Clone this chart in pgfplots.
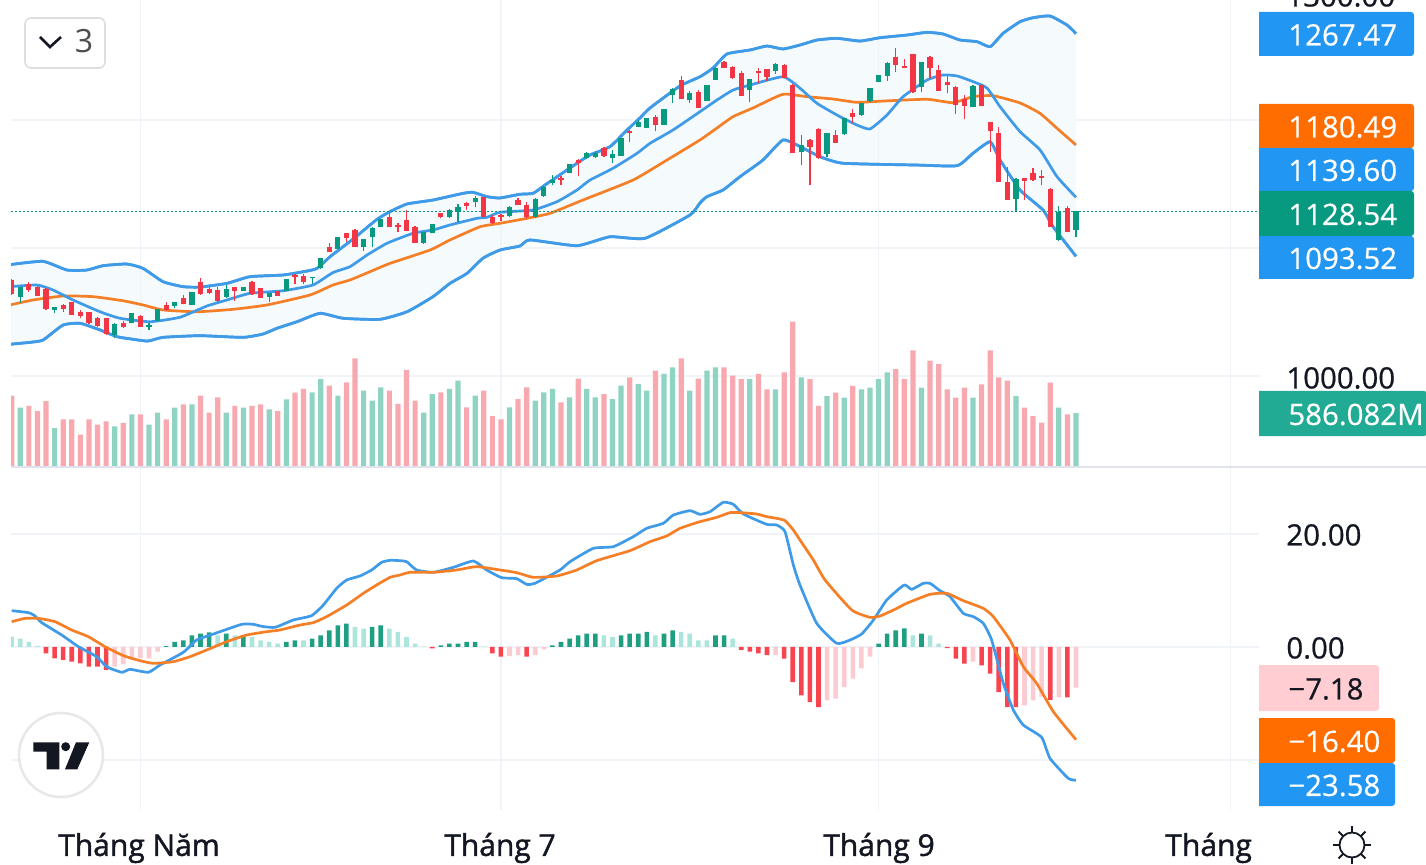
\documentclass[border=0pt]{standalone}
\usepackage{pgfplots}
\pgfplotsset{compat=1.18}
\usepackage{pgfplotstable}
\usepgfplotslibrary{fillbetween}
\usepackage{fontspec}
\setmainfont{Open Sans}
\newfontfamily\tickfont[FakeBold=1.4]{Open Sans}
\newfontfamily\scalefont[FakeBold=0.7]{Open Sans}
\newfontfamily\labfont[FakeBold=0.5]{Open Sans}
\definecolor{cgrid}{HTML}{F0F3F7}
\definecolor{cup}{HTML}{089981}
\definecolor{cdn}{HTML}{F23645}
\definecolor{cblue}{HTML}{3F9BE8}
\definecolor{corange}{HTML}{F57F26}
\definecolor{cfill}{HTML}{F5FAFD}
\definecolor{vup}{HTML}{8FD3C3}
\definecolor{vdn}{HTML}{F8A9B0}
\definecolor{hdg}{HTML}{1E9F82}
\definecolor{hlg}{HTML}{ACE5DC}
\definecolor{hdr}{HTML}{F8444F}
\definecolor{hlr}{HTML}{FBCBD2}
\definecolor{ctext}{HTML}{131722}
\definecolor{lblue}{HTML}{2196F3}
\definecolor{lorange}{HTML}{FF6D00}
\definecolor{lteal}{HTML}{22AB94}
\definecolor{lpink}{HTML}{FFCDD2}
\definecolor{csep}{HTML}{E0E3EB}
% candles: index, body top, body bottom, high, low
\pgfplotstableread{
i t b h l
1 1069.3 1062.0 1069.3 1057.3
5 1053.6 1051.6 1054.2 1049.0
12 1040.6 1032.0 1041.1 1029.4
14 1049.0 1041.1 1049.0 1041.1
16 1039.8 1038.5 1041.1 1036.0
17 1052.3 1043.0 1052.3 1043.0
19 1058.1 1054.7 1058.1 1052.9
21 1065.9 1055.5 1065.9 1055.5
25 1067.7 1062.0 1071.1 1060.7
27 1069.8 1066.7 1069.8 1066.7
30 1064.6 1061.5 1064.6 1058.1
32 1075.5 1066.4 1075.5 1066.4
35 1077.6 1076.3 1077.6 1071.9
36 1091.9 1084.1 1091.9 1083.3
38 1108.3 1099.0 1108.3 1099.0
41 1106.8 1100.5 1106.8 1097.9
42 1115.9 1108.3 1116.7 1100.5
43 1122.4 1116.2 1122.4 1116.2
48 1112.8 1103.7 1112.8 1103.1
49 1118.5 1111.5 1118.5 1111.5
51 1129.7 1124.0 1130.2 1123.4
52 1131.8 1129.2 1134.1 1120.6
54 1138.8 1135.7 1140.6 1131.8
58 1131.8 1125.0 1132.8 1124.5
61 1138.3 1124.0 1138.8 1123.2
62 1147.9 1140.9 1148.4 1140.1
63 1153.1 1150.5 1157.0 1149.2
65 1165.4 1158.3 1165.4 1158.3
67 1173.9 1170.1 1175.3 1169.3
68 1174.5 1170.8 1176.0 1170.1
70 1173.4 1170.1 1176.6 1166.7
71 1185.7 1171.9 1185.7 1171.9
73 1198.7 1194.3 1200.0 1194.3
74 1201.3 1194.0 1201.3 1194.0
76 1208.3 1196.1 1208.3 1196.1
77 1224.0 1219.5 1224.7 1213.5
79 1220.8 1215.6 1222.9 1213.5
81 1227.3 1214.8 1227.3 1214.8
82 1240.9 1231.3 1241.7 1231.3
86 1231.8 1223.4 1231.8 1214.3
89 1243.5 1238.3 1244.3 1235.9
92 1180.5 1175.3 1188.3 1164.8
95 1189.6 1173.4 1190.1 1170.8
97 1201.3 1188.8 1201.8 1188.3
99 1213.0 1203.9 1213.5 1203.4
100 1224.7 1214.8 1225.3 1214.3
101 1235.2 1230.0 1235.2 1230.0
102 1244.8 1234.4 1245.3 1230.7
106 1245.1 1225.5 1245.6 1221.6
112 1226.8 1210.4 1227.3 1209.9
117 1153.9 1138.3 1154.4 1127.9
122 1128.4 1106.3 1132.8 1105.7
124 1128.54 1114.1 1128.54 1108.3
}\candleup
\pgfplotstableread{
i t b h l
0 1075.0 1064.1 1075.5 1063.3
2 1071.9 1067.2 1073.2 1065.9
3 1069.8 1062.5 1070.3 1062.5
4 1067.7 1052.1 1068.5 1051.6
6 1055.2 1052.6 1056.2 1050.3
7 1058.1 1047.9 1058.1 1047.9
8 1050.3 1047.1 1051.6 1045.1
9 1050.3 1041.1 1050.3 1040.6
10 1045.1 1039.3 1046.4 1038.5
11 1045.1 1032.8 1045.1 1032.0
13 1041.7 1038.5 1043.2 1037.2
15 1046.9 1038.5 1047.7 1038.5
18 1055.2 1051.6 1058.1 1051.0
20 1060.7 1056.2 1063.3 1056.2
22 1073.7 1063.8 1076.3 1063.3
23 1068.2 1064.6 1069.3 1063.8
24 1067.2 1058.6 1069.3 1058.1
26 1069.8 1066.4 1069.8 1058.6
28 1073.2 1064.1 1074.2 1063.3
29 1068.5 1061.2 1068.5 1061.2
31 1066.7 1062.8 1066.7 1062.8
33 1078.9 1077.6 1079.4 1071.6
34 1078.1 1073.2 1079.4 1071.6
37 1101.0 1096.6 1103.6 1096.6
39 1112.0 1107.6 1112.0 1105.0
40 1114.1 1100.5 1114.6 1100.5
44 1124.5 1116.2 1128.4 1116.2
45 1118.0 1116.2 1119.3 1112.5
46 1121.9 1113.5 1129.7 1113.5
47 1116.7 1103.7 1117.2 1103.7
50 1127.1 1124.0 1127.6 1123.4
53 1135.4 1132.8 1136.2 1129.7
55 1139.6 1124.5 1139.6 1124.0
56 1124.5 1119.3 1125.8 1118.5
57 1125.8 1124.0 1126.6 1121.4
59 1137.5 1133.3 1138.8 1133.3
60 1133.6 1124.0 1136.2 1122.4
64 1154.4 1153.1 1156.3 1149.2
66 1168.8 1166.2 1169.5 1156.3
69 1177.9 1171.9 1178.6 1171.4
72 1191.4 1190.1 1192.2 1183.1
75 1202.6 1196.1 1203.9 1191.4
78 1231.3 1216.4 1234.4 1216.4
80 1222.1 1209.7 1223.4 1209.7
83 1245.6 1240.9 1246.1 1240.4
84 1241.7 1232.6 1242.2 1232.0
85 1236.5 1218.8 1238.5 1218.8
87 1238.3 1237.0 1240.4 1228.6
88 1239.6 1233.3 1240.1 1230.5
90 1243.0 1232.6 1243.8 1232.6
91 1227.3 1174.5 1227.9 1174.0
93 1184.4 1179.2 1184.9 1149.2
94 1192.7 1170.6 1193.5 1169.3
96 1188.3 1182.3 1192.2 1181.8
98 1205.2 1202.6 1208.3 1197.9
103 1249.0 1243.0 1256.0 1237.8
104 1242.5 1240.4 1247.4 1240.4
105 1251.3 1222.1 1251.8 1220.8
107 1249.5 1240.4 1250.0 1232.6
108 1239.1 1222.9 1243.0 1222.9
109 1230.0 1227.3 1234.4 1220.8
110 1226.0 1211.7 1226.6 1204.4
111 1216.4 1210.9 1219.5 1200.5
113 1227.3 1211.2 1227.9 1211.2
114 1198.2 1191.7 1198.7 1175.3
115 1190.1 1151.8 1194.8 1151.8
116 1151.8 1137.5 1163.6 1137.5
118 1154.4 1152.4 1154.9 1137.5
119 1158.3 1153.1 1162.8 1152.6
120 1156.5 1154.9 1160.9 1149.2
121 1146.1 1116.7 1146.6 1116.2
123 1131.0 1112.8 1132.8 1112.2
}\candledn
\pgfplotstableread{
x y
-0.2 1087.0
3.65 1089.6
6.44 1082.8
8.77 1082.8
10.64 1086.2
13.43 1087.5
15.3 1084.1
17.63 1073.7
19.96 1069.8
21.94 1069.5
25.08 1072.4
27.76 1077.6
31.61 1078.9
34.4 1082.0
35.57 1084.1
37.09 1093.2
39.77 1107.0
42.56 1122.4
44.07 1128.4
46.06 1134.4
49.09 1137.5
52.58 1142.7
53.75 1143.5
55.38 1140.1
56.89 1139.1
59.22 1142.0
60.74 1142.7
62.13 1149.2
65.86 1166.2
67.38 1172.7
69.71 1179.2
71.69 1192.2
73.2 1201.6
74.37 1209.4
77.86 1226.6
80.19 1233.8
81.71 1240.6
83.34 1251.6
86.02 1254.7
88.0 1257.8
89.86 1255.5
91.85 1258.6
93.83 1262.5
96.16 1263.8
98.84 1261.7
101.17 1264.3
104.31 1266.4
106.64 1268.5
108.51 1267.2
110.49 1262.5
112.47 1261.2
114.0 1257.3
115.5 1267.7
117.48 1276.8
118.99 1279.9
120.97 1281.25
122.95 1274.2
124 1267.47
}\bbupper
\pgfplotstableread{
x y
-0.2 1024.8
2.13 1026.3
3.65 1028.1
5.98 1039.8
7.96 1041.2
10.29 1036.0
12.27 1030.7
14.13 1028.7
15.88 1027.3
17.63 1030.2
21.94 1031.5
26.95 1030.2
29.28 1032.8
30.91 1037.3
33.24 1042.4
35.92 1049.0
38.6 1045.1
42.91 1044.3
46.06 1050.2
49.09 1062.0
51.07 1072.4
53.05 1080.2
54.91 1092.0
56.89 1098.4
59.22 1101.6
60.38 1106.3
65.86 1101.8
69.71 1108.8
73.79 1107.6
79.03 1125.8
80.19 1135.2
81.0 1140.1
82.87 1145.3
84.85 1155.7
87.53 1168.75
89.86 1184.4
91.85 1179.2
94.18 1171.3
96.86 1166.2
105.48 1164.8
110.14 1164.3
112.0 1174.0
114.0 1183.0
115.15 1168.75
117.48 1145.3
120.16 1129.7
121.33 1116.6
124 1093.52
}\bblower
\pgfplotstableread{
x y
-0.2 1055.5
2.48 1059.4
5.98 1062.5
9.47 1062.0
12.97 1058.8
15.3 1055.5
17.63 1051.6
21.59 1050.2
25.78 1052.1
29.74 1055.5
34.76 1063.3
37.43 1071.1
39.41 1075.0
41.75 1081.5
44.07 1088.0
48.74 1098.4
51.07 1106.3
54.57 1116.6
56.89 1119.3
60.04 1123.2
62.72 1127.1
66.56 1137.5
72.39 1153.1
76.35 1168.75
80.19 1184.4
82.17 1193.75
84.04 1202.6
86.37 1209.4
89.86 1220.1
92.66 1218.2
95.69 1216.4
98.48 1213.8
101.51 1214.8
106.64 1216.2
109.67 1213.5
112.0 1218.2
114.33 1219.0
117.48 1213.3
119.81 1205.2
121.79 1193.5
124 1180.49
}\bbbasis
\pgfplotstableread{
x y
-0.2 1069.8
2.95 1071.1
4.81 1067.2
7.14 1059.4
10.29 1050.2
12.62 1045.1
16.11 1042.4
19.61 1045.9
22.75 1054.7
25.08 1059.4
27.76 1064.6
31.61 1066.6
35.1 1071.1
37.43 1080.8
39.41 1085.4
41.4 1094.5
43.73 1103.7
46.76 1111.5
49.09 1114.1
51.07 1118.0
54.21 1123.2
55.38 1124.0
56.89 1127.9
60.74 1129.7
63.53 1136.2
65.86 1145.3
67.38 1153.1
70.06 1162.3
72.86 1174.0
74.37 1181.8
77.05 1192.2
80.19 1206.5
82.17 1215.6
84.04 1223.4
86.02 1227.3
89.86 1233.8
91.85 1224.8
93.83 1213.0
96.5 1202.6
98.48 1196.1
100.0 1193.0
101.98 1203.9
103.85 1218.2
106.64 1231.25
108.51 1235.2
110.14 1234.4
112.0 1230.0
113.63 1225.0
115.15 1210.4
117.48 1190.9
119.81 1176.6
121.79 1155.7
124 1139.6
}\shortma
\pgfplotstableread{
i v
1 645
5 420
12 439
14 571
16 457
17 590
19 645
21 682
25 590
27 645
30 627
32 737
35 815
36 962
38 778
41 833
42 723
43 870
48 590
49 796
51 852
52 944
54 778
58 649
61 723
62 815
63 852
65 760
67 852
68 760
70 741
71 889
73 907
74 833
76 1018
77 1091
79 833
81 1054
82 1091
86 962
89 848
92 981
95 774
97 756
99 848
100 866
101 962
102 1036
106 866
112 756
117 774
122 645
124 586.082
}\volup
\pgfplotstableread{
i v
0 778
2 664
3 608
4 719
6 516
7 516
8 347
9 516
10 457
11 494
13 476
15 571
18 516
20 682
22 778
23 590
24 760
26 664
28 664
29 682
31 608
33 811
34 852
37 889
39 925
40 1191
44 833
45 686
46 1062
47 723
50 815
53 649
55 833
56 553
57 516
59 741
60 870
64 704
66 966
69 796
72 981
75 1054
78 1191
80 966
83 1091
84 999
85 962
87 1018
88 848
90 1036
91 1596
93 962
94 664
96 811
98 885
103 1073
104 962
105 1279
107 1165
108 1128
109 848
110 756
111 866
113 903
114 1279
115 981
116 944
118 645
119 553
120 479
121 922
123 571
}\voldn
\pgfplotstableread{
i v
18 0.15
19 0.89
20 1.18
21 2.07
22 2.36
23 2.6
25 2.36
27 2.07
32 0.89
33 1.18
35 1.48
36 2.07
37 2.95
38 3.84
39 4.13
42 3.54
43 3.84
50 0.3
51 0.59
52 0.59
53 0.89
54 0.89
63 0.3
64 0.89
65 1.48
66 2.07
67 2.36
68 2.36
71 2.07
72 2.36
73 2.36
74 2.66
76 2.36
77 2.95
82 2.07
83 2.07
101 0.59
102 2.36
103 2.95
104 3.3
106 2.36
}\histdg
\pgfplotstableread{
i v
0 1.83
1 1.48
2 0.89
3 0.18
24 2.07
26 2.07
28 1.77
29 1.18
30 0.89
31 0.59
34 1.18
40 3.54
41 3.25
44 3.25
45 2.66
46 1.77
47 0.59
48 0.05
55 0.05
69 2.07
70 1.77
75 2.07
78 2.66
79 2.36
80 1.18
81 1.18
84 1.48
105 2.07
107 2.07
108 0.59
}\histlg
\pgfplotstableread{
i v
4 -1.12
5 -2.0
6 -2.3
7 -2.6
8 -2.89
9 -3.48
10 -3.48
11 -4.07
49 -0.24
56 -1.12
57 -1.71
60 -1.71
85 -0.53
86 -0.83
87 -1.12
88 -1.42
90 -2.07
91 -6.2
92 -8.56
93 -9.74
94 -10.62
109 -0.18
110 -2.07
111 -2.95
113 -3.25
114 -4.72
115 -7.97
116 -10.62
117 -10.62
121 -9.38
123 -8.9
}\histdr
\pgfplotstableread{
i v
12 -3.48
13 -3.07
14 -2.3
15 -2.0
16 -2.0
17 -0.83
58 -1.6
59 -1.42
61 -1.42
62 -0.41
89 -1.42
95 -9.44
96 -9.15
97 -7.08
98 -5.6
99 -3.78
100 -1.71
112 -2.6
118 -10.33
119 -9.44
120 -8.8
122 -8.9
124 -7.18
}\histlr
\pgfplotstableread{
x y
0 6.43
1.94 6.08
2.72 5.49
3.5 4.31
5.83 2.12
7.77 0.06
9.9 -1.71
11.07 -3.48
12.82 -4.48
13.79 -3.95
15.92 -4.48
17.28 -3.19
20 -0.94
21.55 1.24
23.5 2.3
26.8 4.01
28.16 4.01
29.13 3.66
30.68 3.48
32.82 4.78
34.95 5.55
36.31 7.43
37.86 10.38
39.03 11.86
40.58 12.57
41.94 13.63
43.1 14.99
44.08 15.34
45.24 15.28
46.02 15.1
47.18 13.63
49.13 13.22
51.46 14.1
53.79 15.22
55.34 13.63
57.09 12.27
58.83 12.1
60 11.09
60.97 11.27
63.88 13.63
65.05 15.1
67.77 17.46
70.1 17.76
72.43 19.53
73.98 21.0
75.92 21.89
77.09 23.36
79.03 24.13
80.19 23.48
81.36 23.95
82.91 25.61
84.08 25.25
85.24 23.54
87.96 21.71
89.13 21.59
90.1 20.41
91.07 14.51
91.84 10.97
93.79 4.19
96.12 0.65
97.67 1.24
99.03 2.3
100.4 4.78
101.95 8.32
103.97 10.97
104.85 10.21
106.21 11.27
106.99 11.27
108.16 9.97
109.32 8.91
110.87 5.96
112.04 5.37
113.2 4.19
114.17 1.24
115.53 -6.43
116.7 -11.15
117.86 -13.81
120 -15.99
120.97 -19.71
123.1 -23.25
124 -23.58
}\macdline
\pgfplotstableread{
x y
0 4.48
1.55 5.07
3.1 5.07
5.05 4.48
6.99 3.01
8.93 1.83
10.87 0.06
13.01 -1.53
14.95 -2.42
16.5 -2.89
18.83 -2.6
20.78 -1.71
22.72 -0.53
25.05 0.94
27.38 2.12
29.71 2.71
31.26 3.01
33.59 3.89
35.13 4.31
36.69 5.37
39.03 7.43
40.97 9.5
42.52 10.97
44.08 12.33
45.24 12.74
46.41 13.22
49.13 13.22
51.84 13.63
54.17 14.22
56.89 13.63
58.83 13.16
60.78 12.33
63.5 12.57
65.83 13.63
68.16 15.28
72.04 17.05
74.37 18.64
76.31 19.65
77.86 21.0
80.19 22.18
82.14 22.95
83.69 23.78
84.85 23.78
86.8 23.54
87.96 23.07
89.13 22.77
90.1 22.36
91.07 20.71
91.84 18.94
93.4 15.4
94.76 11.86
97.87 6.55
100 5.25
101.17 5.49
102.91 6.67
104.27 7.73
106.99 9.32
108.93 9.5
110.87 8.2
113.2 6.84
114.37 5.37
116.31 1.24
117.86 -3.48
119.42 -6.43
121.36 -11.45
124 -16.40
}\signalline
\pgfplotsset{pane/.style={
  scale only axis, width=624pt, xmin=-0.08, xmax=145.32,
  anchor=south west, axis line style={draw=none}, tick style={draw=none},
  xtick={15,57,101,142}, xticklabels={}, yticklabels={},
  grid=major, grid style={cgrid, line width=0.6pt}},
 vol/.style={ybar, bar width=2.6pt, bar shift=0pt, fill=#1, draw=none},
 hist/.style={ybar, bar width=2.3pt, bar shift=0pt, fill=#1, draw=none},
 wick/.style={only marks, mark=*, mark size=0pt, mark options={draw=none, fill=none}, error bars/.cd, y dir=plus, y explicit, error mark=none, error bar style={#1, line width=0.6pt}},
 body/.style={only marks, mark=*, mark size=0pt, mark options={draw=none, fill=none}, error bars/.cd, y dir=plus, y explicit, error mark=none, error bar style={#1, line width=2.6pt}},
 band/.style={#1, line width=1.35pt, line join=round, mark=none, smooth, tension=0.3}}
\newcommand{\lab}[6]{% y1,y2,x2,fill,textcolor,text
  \path[fill=#4] (1259,#1) {[rounded corners=1.5pt] -- (#3,#1) -- (#3,#2)} -- (1259,#2) -- cycle;
  \node[anchor=west, inner sep=0pt, text=#5, font=\labfont\fontsize{14.7}{15}\selectfont] at (1288,{(#1+#2)/2+1}) {#6};}
\begin{document}
\begin{tikzpicture}
% volume overlay
\begin{axis}[pane, at={(5.5pt,199pt)}, height=233pt, ymin=0, ymax=5155, ytick=\empty]
\addplot[vol=vup] table[x=i,y=v] {\volup};
\addplot[vol=vdn] table[x=i,y=v] {\voldn};
\end{axis}
% price pane
\begin{axis}[pane, at={(5.5pt,199pt)}, height=233pt, ymin=929.7, ymax=1293.75, ytick={1000,1100,1200}, xtick=\empty, xmajorgrids=false]
\addplot[name path=U, band=cblue] table[x=x,y=y] {\bbupper};
\addplot[name path=L, band=cblue] table[x=x,y=y] {\bblower};
\addplot[cfill] fill between[of=U and L];
\addplot[band=cblue] table[x=x,y=y] {\bbupper};
\addplot[band=cblue] table[x=x,y=y] {\bblower};
\addplot[band=corange] table[x=x,y=y] {\bbbasis};
\addplot[band=cblue] table[x=x,y=y] {\shortma};
\addplot[cup, line width=0.55pt, dash pattern=on 0.8pt off 1.2pt, forget plot] coordinates {(-0.08,1128.54) (145.32,1128.54)};
\addplot[wick=cup] table[x=i,y=l,y error plus expr=\thisrow{h}-\thisrow{l}] {\candleup};
\addplot[wick=cdn] table[x=i,y=l,y error plus expr=\thisrow{h}-\thisrow{l}] {\candledn};
\addplot[body=cup] table[x=i,y=b,y error plus expr=\thisrow{t}-\thisrow{b}] {\candleup};
\addplot[body=cdn] table[x=i,y=b,y error plus expr=\thisrow{t}-\thisrow{b}] {\candledn};
\end{axis}
% MACD pane
\begin{axis}[pane, at={(5.5pt,27pt)}, height=171pt, ymin=-28.85, ymax=31.68, ytick={-20,0,20}]
\addplot[hist=hdg] table[x=i,y=v] {\histdg};
\addplot[hist=hlg] table[x=i,y=v] {\histlg};
\addplot[hist=hdr] table[x=i,y=v] {\histdr};
\addplot[hist=hlr] table[x=i,y=v] {\histlr};
\addplot[band=cblue] table[x=x,y=y] {\macdline};
\addplot[band=corange] table[x=x,y=y] {\signalline};
\end{axis}
% overlay in reference pixels
\begin{scope}[x=0.5pt,y=-0.5pt,yshift=432pt]
\draw[csep, line width=1pt] (11,467) -- (1426,467);
\node[anchor=west, inner sep=0pt, text=ctext, font=\scalefont\fontsize{14.7}{15}\selectfont] at (1286,-4) {1300.00};
\lab{12}{56}{1414}{lblue}{white}{1267.47}
\lab{104}{148}{1414}{lorange}{white}{1180.49}
\lab{148}{191}{1414}{lblue}{white}{1139.60}
\lab{236}{279}{1414}{lblue}{white}{1093.52}
\lab{191}{236}{1414}{cup}{white}{1128.54}
\node[anchor=west, inner sep=0pt, text=ctext, font=\scalefont\fontsize{14.7}{15}\selectfont] at (1286,378) {1000.00};
\lab{391}{436}{1427}{lteal}{white}{586.082M}
\node[anchor=west, inner sep=0pt, text=ctext, font=\scalefont\fontsize{14.7}{15}\selectfont] at (1286,535) {20.00};
\node[anchor=west, inner sep=0pt, text=ctext, font=\scalefont\fontsize{14.7}{15}\selectfont] at (1286,648) {0.00};
\lab{665}{711}{1379}{lpink}{ctext}{−7.18}
\lab{718}{763}{1395}{lorange}{white}{−16.40}
\lab{763}{806}{1395}{lblue}{white}{−23.58}
\foreach \x/\t in {139/Tháng Năm,500/Tháng 7,879/Tháng 9}
  \node[text=ctext, inner sep=0pt, font=\tickfont\fontsize{15}{15}\selectfont] at (\x,848) {\t};
\begin{scope}
\clip (1100,820) rectangle (1252,864);
\node[anchor=west, text=ctext, inner sep=0pt, font=\tickfont\fontsize{15}{15}\selectfont] at (1165,848) {Tháng 11};
\end{scope}
% sun icon
\draw[ctext, line width=0.9pt] (1352,845) circle (12.5);
\foreach \a in {0,45,...,315}
  \draw[ctext, line width=0.9pt] (1352,845) ++(\a:12.5) -- ++(\a:6.5);
% interval button
\draw[fill=white, draw=black!13, line width=0.8pt, rounded corners=3pt] (25,18) rectangle (105,68);
\draw[ctext, line width=1.3pt] (40,37) -- (50,47) -- (61,37);
\node[text=black!70, inner sep=0pt, font=\fontsize{16}{16}\selectfont] at (84,41) {3};
% logo
\draw[fill=white, draw=black!9, line width=1.3pt] (61,755) circle (42);
\fill[ctext] (33.3,742.3) -- (59.3,742.3) -- (59.3,769.3) -- (46.7,769.3) -- (46.7,751.7) -- (33.3,751.7) -- cycle;
\fill[ctext] (65.7,746.7) circle (4.5);
\fill[ctext] (76,742.3) -- (89.3,742.3) -- (77.3,769.3) -- (65,769.3) -- cycle;
\end{scope}
\pgfresetboundingbox
\path[use as bounding box] (0,0) rectangle (713pt,432pt);
\end{tikzpicture}
\end{document}
